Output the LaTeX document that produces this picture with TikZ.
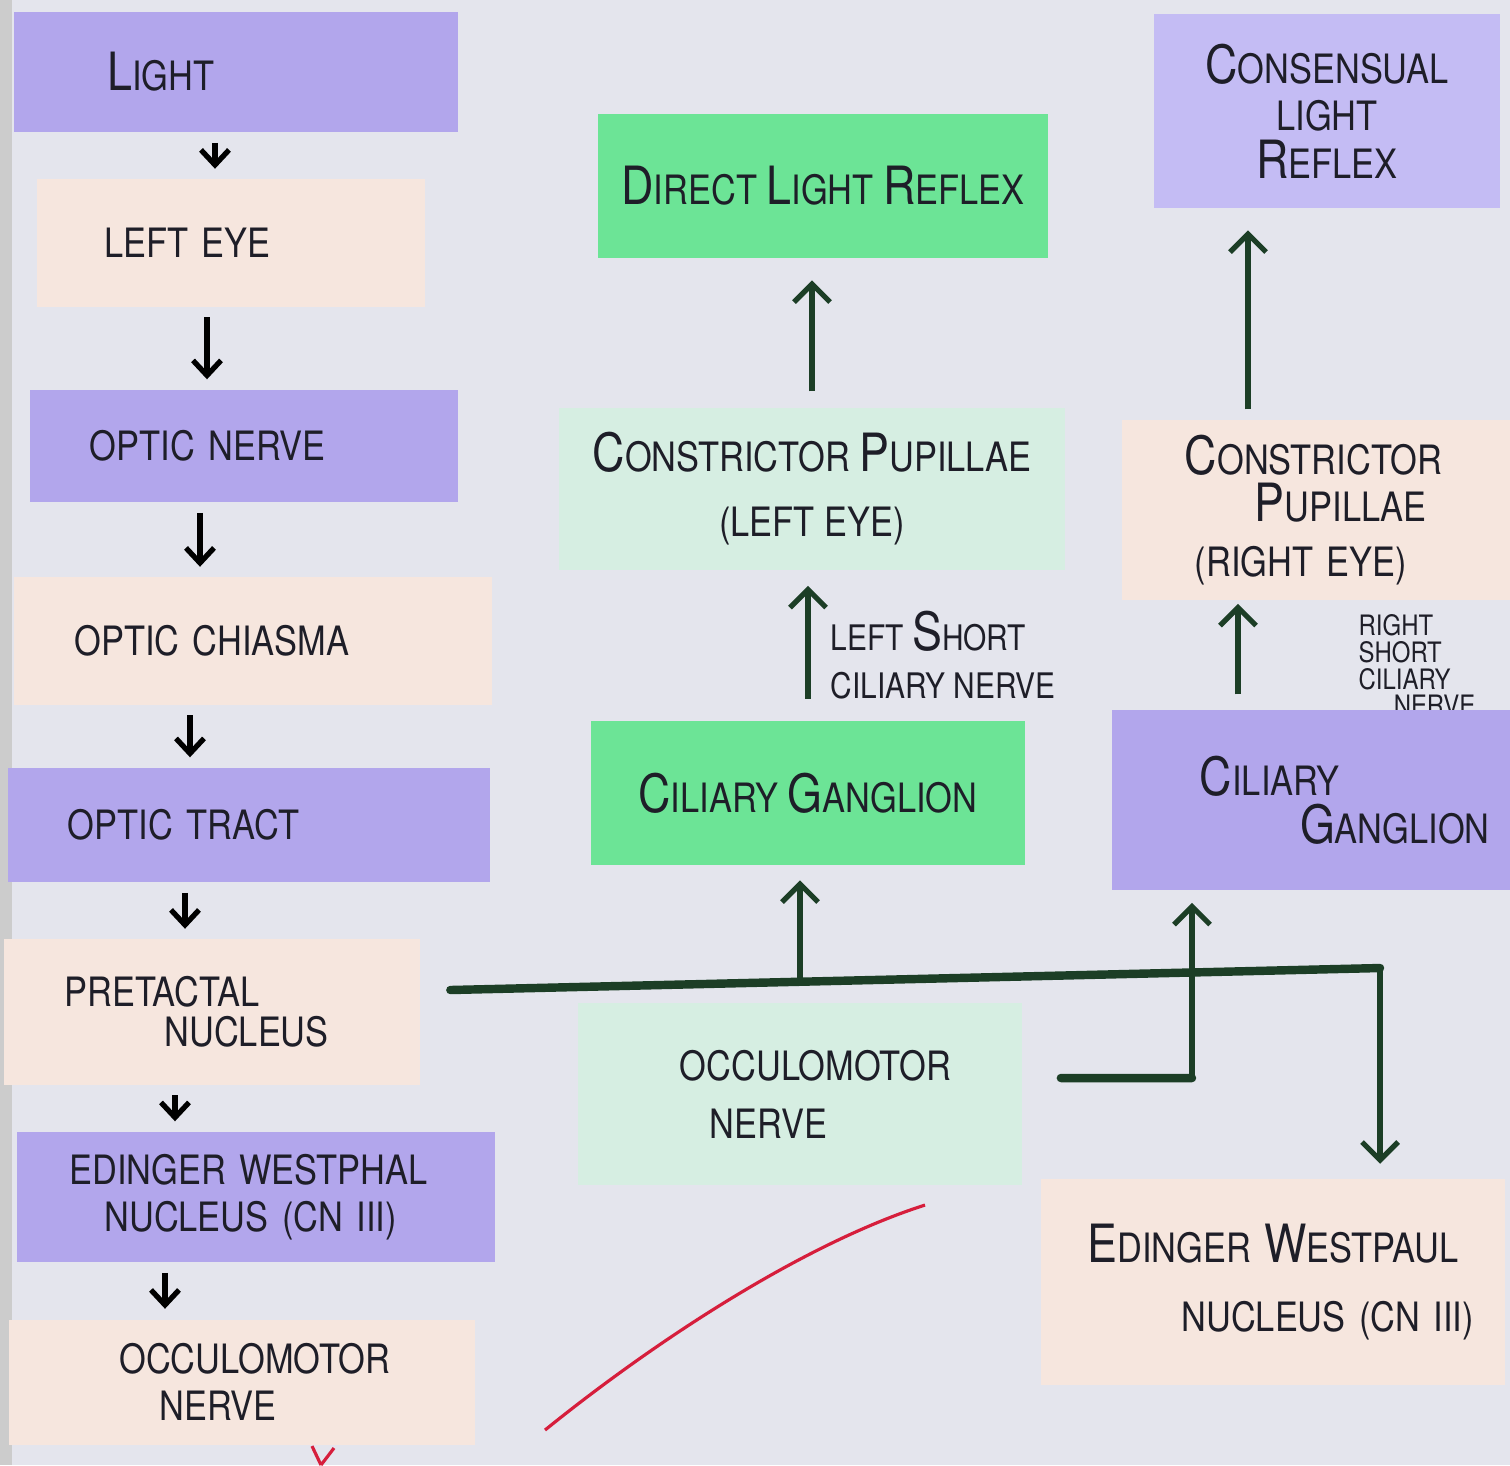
\documentclass[tikz,border=0pt]{standalone}
\usepackage{fontspec}
\setmainfont{TeX Gyre Heros}[FakeStretch=0.85]
\usetikzlibrary{arrows.meta}

\definecolor{paper}{RGB}{228,229,237}
\definecolor{lilac}{RGB}{178,166,236}
\definecolor{lilacpale}{RGB}{196,188,244}
\definecolor{peach}{RGB}{246,230,222}
\definecolor{mint}{RGB}{214,238,226}
\definecolor{leaf}{RGB}{108,228,150}
\definecolor{pen}{RGB}{28,62,38}
\definecolor{ink}{RGB}{30,30,40}
\definecolor{redpen}{RGB}{214,30,60}

\hyphenpenalty=10000
\exhyphenpenalty=10000
\newcommand\hand{\fontsize{11.5}{13.5}\selectfont}
\newcommand\ini[1]{{\fontsize{15}{13.5}\selectfont #1}}

\tikzset{
  card/.style={inner ysep=0pt, font=\hand, text=ink},
  lcard/.style={card, align=left},
  ccard/.style={card, align=center},
  tick/.style={draw=black, line width=1.5pt, -{Straight Barb[length=1.5mm,width=2.8mm]},
    shorten <=0.1cm, shorten >=0.1cm},
  nerve/.style={draw=pen, line width=1.5pt, -{Straight Barb[length=1.8mm,width=3.6mm]}},
  bus/.style={draw=pen, line width=2.4pt, line cap=round},
  note/.style={align=left, text=ink, inner sep=0pt},
}

\begin{document}
\begin{tikzpicture}[x=0.01cm, y=-0.01cm]
 % paper
 \fill[paper] (0,0) rectangle (1510,1465);
 \fill[black!20] (0,0) rectangle (12,1465);
 \useasboundingbox (0,0) rectangle (1510,1465);

 % nerve labels
 \node[note, anchor=west, font=\fontsize{10}{13.6}\selectfont] (leftnote) at (830,655)
  {LEFT~\ini{S}HORT\\CILIARY~NERVE};
 \node[note, anchor=north west, font=\fontsize{8}{7.6}\selectfont] (rightnote) at (1358,614)
  {RIGHT\\SHORT\\CILIARY\\\hspace*{0.35cm}NERVE};

 % left column
 \node[lcard, fill=lilac, minimum height=1.2cm, text width=2.57cm, inner xsep=0.93cm]
  (light) at (236,72) {\ini{L}IGHT};
 \node[lcard, fill=peach, minimum height=1.27cm, text width=2.53cm, inner xsep=0.67cm]
  (lefteye) at (231,243) {LEFT~EYE};
 \node[lcard, fill=lilac, minimum height=1.12cm, text width=3.08cm, inner xsep=0.6cm]
  (opticnerve) at (244,446) {OPTIC~NERVE};
 \node[lcard, fill=peach, minimum height=1.27cm, text width=3.57cm, inner xsep=0.6cm]
  (chiasma) at (253,641) {OPTIC~CHIASMA};
 \node[lcard, fill=lilac, minimum height=1.14cm, text width=3.62cm, inner xsep=0.6cm]
  (tract) at (249,825) {OPTIC~TRACT};
 \node[lcard, fill=peach, minimum height=1.45cm, text width=2.95cm, inner xsep=0.6cm]
  (pretactal) at (212,1012) {PRETACTAL\\[-2pt]\hspace*{1cm}NUCLEUS};
 \node[lcard, fill=lilac, minimum height=1.3cm, text width=3.73cm, inner xsep=0.52cm]
  (ewL) at (256,1197) {EDINGER~WESTPHAL\\\hspace*{0.35cm}NUCLEUS~(CN~III)};
 \node[lcard, fill=peach, minimum height=1.25cm, text width=2.45cm, inner xsep=1.1cm]
  (oculoL) at (242,1382) {OCCULOMOTOR\\\hspace*{0.4cm}NERVE};

 % middle column
 \node[ccard, fill=leaf, minimum width=4.5cm, minimum height=1.43cm]
  (directL) at (823,186) {\ini{D}IRECT~\ini{L}IGHT~\ini{R}EFLEX};
 \node[ccard, fill=mint, minimum width=5.05cm, minimum height=1.62cm]
  (constrictL) at (812,489) {\ini{C}ONSTRICTOR~\ini{P}UPILLAE\\[5pt](LEFT~EYE)};
 \node[ccard, fill=leaf, minimum width=4.33cm, minimum height=1.43cm]
  (ciliaryL) at (808,793) {\ini{C}ILIARY~\ini{G}ANGLION};
 \node[lcard, fill=mint, minimum height=1.82cm, text width=2.4cm, inner xsep=1.02cm]
  (oculoM) at (800,1094) {OCCULOMOTOR\\[3pt]\hspace*{0.3cm}NERVE};

 % right column
 \node[ccard, fill=lilacpale, minimum width=3.45cm, minimum height=1.93cm]
  (consensual) at (1327,111) {\ini{C}ONSENSUAL\\LIGHT\\\ini{R}EFLEX};
 \node[lcard, fill=peach, minimum height=1.8cm, text width=2.62cm, inner xsep=0.63cm]
  (constrictR) at (1316,510) {\ini{C}ONSTRICTOR\\\hspace*{0.7cm}\ini{P}UPILLAE\\[2pt]\hspace*{0.1cm}(RIGHT~EYE)};
 \node[lcard, fill=lilac, minimum height=1.8cm, text width=2.22cm, inner xsep=0.88cm]
  (ciliaryR) at (1311,800) {\ini{C}ILIARY\\\hspace*{1cm}\ini{G}ANGLION};
 \node[lcard, fill=peach, minimum height=2.05cm, text width=4.03cm, inner xsep=0.3cm]
  (ewR) at (1273,1282) {\hspace*{0.16cm}\ini{E}DINGER~\ini{W}ESTPAUL\\[6pt]\hspace*{1.1cm}NUCLEUS~(CN~III)};

 % left chain
 \foreach \a/\b/\x in {light/lefteye/215, lefteye/opticnerve/207, opticnerve/chiasma/200,
   chiasma/tract/190, tract/pretactal/185, pretactal/ewL/175, ewL/oculoL/165}{
  \coordinate (ax) at (\x,0);
  \draw[tick] (ax |- \a.south) -- (ax |- \b.north);
 }

 % middle arrows
 \draw[nerve, shorten <=0.16cm, shorten >=0.22cm] (constrictL.north) -- (constrictL.north |- directL.south);
 \draw[nerve, shorten <=0.22cm, shorten >=0.15cm] (ciliaryL.north) -- (ciliaryL.north |- constrictL.south);

 % right arrows
 \coordinate (r1) at (1248,0);
 \coordinate (r2) at (1238,0);
 \draw[nerve, shorten <=0.1cm, shorten >=0.22cm] (r1 |- constrictR.north) -- (r1 |- consensual.south);
 \draw[nerve, shorten <=0.15cm, shorten >=0.03cm] (r2 |- ciliaryR.north) -- (r2 |- constrictR.south);

 % crossing pathway
 \coordinate (busL) at ([xshift=0.3cm, yshift=0.22cm]pretactal.east);
 \coordinate (busR) at (1380,968);
 \coordinate (busM) at (800,984);
 \coordinate (stubL) at ([xshift=0.38cm, yshift=0.16cm]oculoM.east);
 \coordinate (stubR) at (1192,1078);
 \draw[bus] (busL) -- (busR);
 \draw[nerve, shorten >=0.15cm] (busR) -- (busR |- ewR.north);
 \draw[nerve, shorten >=0.15cm] (busM) -- (busM |- ciliaryL.south);
 \draw[bus] (stubL) -- (stubR);
 \draw[nerve, shorten >=0.12cm] (stubR) -- (stubR |- ciliaryR.south);

 % red pen marks
 \draw[redpen, line width=0.9pt] (545,1430) .. controls (650,1345) and (800,1245) .. (925,1205);
 \draw[redpen, line width=0.9pt] (312,1446) -- (321,1465) (321,1465) -- (334,1448);
\end{tikzpicture}
\end{document}
